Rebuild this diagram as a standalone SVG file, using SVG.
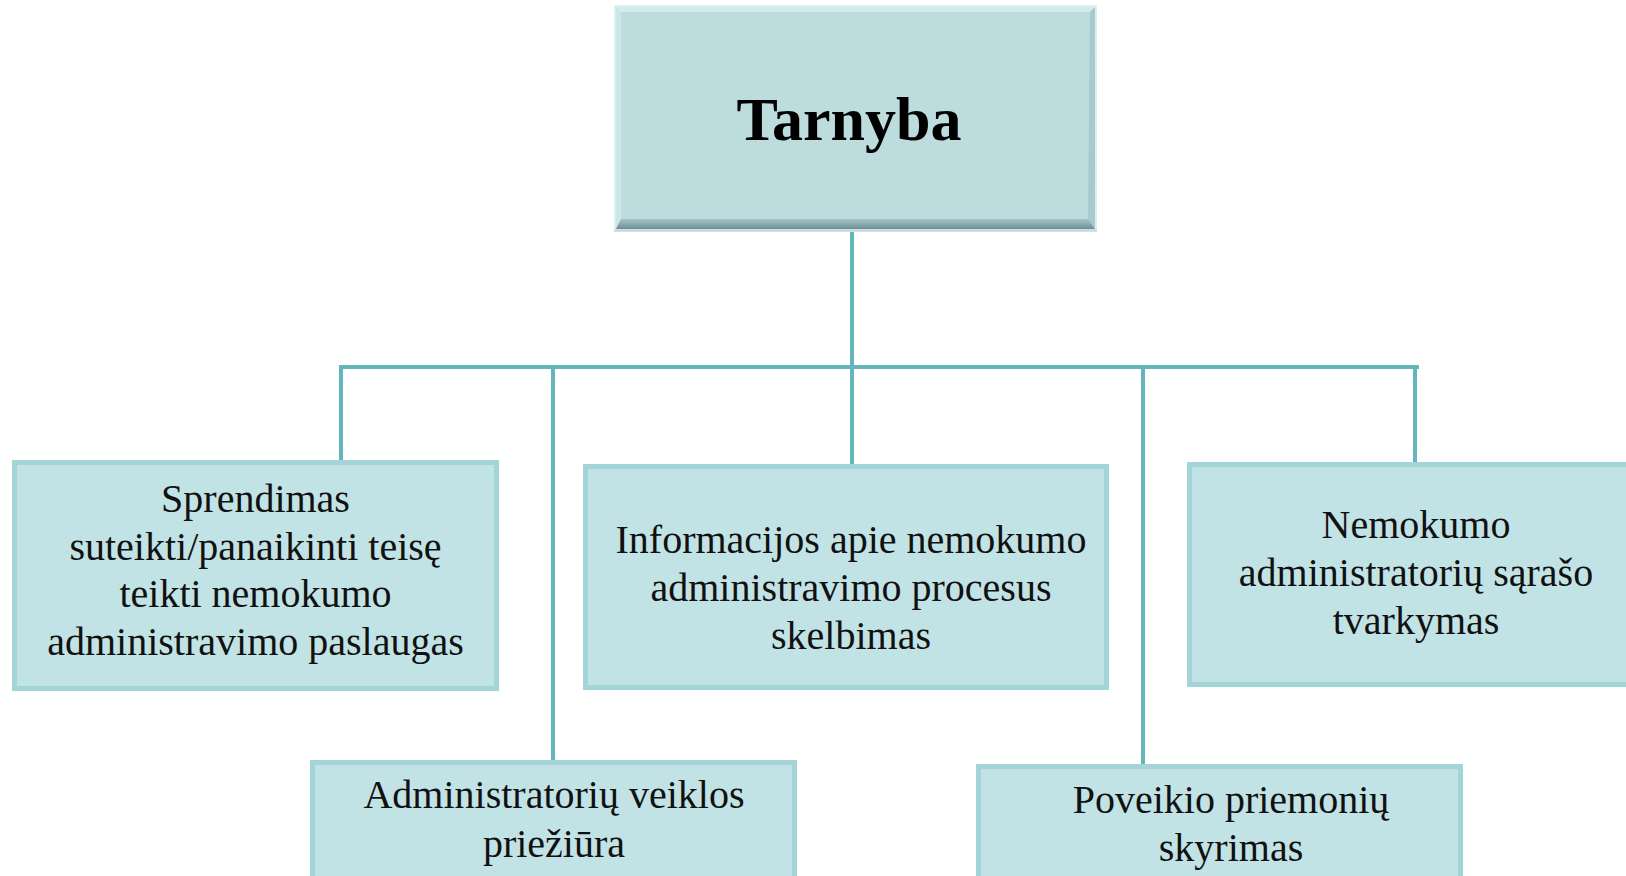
<svg xmlns="http://www.w3.org/2000/svg" width="1626" height="876" viewBox="0 0 1626 876">
<defs>
<style>
.box{fill:#C2E3E5;stroke:#A3D4D7;stroke-width:5}
.lbl{font-family:"Liberation Serif","Times New Roman",serif;font-size:40px;fill:#111;text-anchor:middle}
.ttl{font-family:"Liberation Serif","Times New Roman",serif;font-size:62px;font-weight:bold;fill:#000;text-anchor:middle}
.conn{stroke:#63B7BA;stroke-width:4;fill:none}
</style>
<linearGradient id="botBev" x1="0" y1="0" x2="0" y2="1">
<stop offset="0" stop-color="#A7C6C8"/>
<stop offset="1" stop-color="#6F8F92"/>
</linearGradient>
</defs>
<rect width="1626" height="876" fill="#FFFFFF"/>
<g id="connectors">
<path class="conn" d="M852 229 V367"/>
<path class="conn" d="M339 367 H1419"/>
<path class="conn" d="M341 365 V460"/>
<path class="conn" d="M553 367 V760"/>
<path class="conn" d="M852 367 V464"/>
<path class="conn" d="M1143 367 V764"/>
<path class="conn" d="M1415 365 V462"/>
</g>
<g id="node-tarnyba">
<rect x="614" y="5" width="483" height="227" fill="#D9F0F2"/>
<rect x="616" y="7" width="479" height="222" fill="#BCDCDE"/>
<polygon points="616,7 1095,7 1090,12 621,12" fill="#D2ECEE"/>
<polygon points="616,7 621,12 621,220 616,229" fill="#CBE7E9"/>
<polygon points="1095,7 1095,229 1088,220 1090,12" fill="#A9CACC"/>
<polygon points="616,229 621,219 1088,219 1095,229" fill="url(#botBev)"/>
<line x1="614" y1="230.5" x2="1097" y2="230.5" stroke="#C9D6D7" stroke-width="2"/>
<text class="ttl" x="849" y="140">Tarnyba</text>
</g>
<g id="node-sprendimas">
<rect class="box" x="14.5" y="462.5" width="482" height="226"/>
<text class="lbl" x="255.5" y="512">Sprendimas</text>
<text class="lbl" x="255.5" y="559.5">suteikti/panaikinti teisę</text>
<text class="lbl" x="255.5" y="607">teikti nemokumo</text>
<text class="lbl" x="255.5" y="655">administravimo paslaugas</text>
</g>
<g id="node-informacija">
<rect class="box" x="585.5" y="466.5" width="521" height="221"/>
<text class="lbl" x="851" y="553">Informacijos apie nemokumo</text>
<text class="lbl" x="851" y="601">administravimo procesus</text>
<text class="lbl" x="851" y="649">skelbimas</text>
</g>
<g id="node-sarasas">
<rect class="box" x="1189.5" y="464.5" width="480" height="220"/>
<text class="lbl" x="1416" y="538">Nemokumo</text>
<text class="lbl" x="1416" y="586">administratorių sąrašo</text>
<text class="lbl" x="1416" y="634">tvarkymas</text>
</g>
<g id="node-prieziura">
<rect class="box" x="312.5" y="762.5" width="482" height="200"/>
<text class="lbl" x="554" y="808">Administratorių veiklos</text>
<text class="lbl" x="554" y="857">priežiūra</text>
</g>
<g id="node-poveikis">
<rect class="box" x="978.5" y="766.5" width="482" height="200"/>
<text class="lbl" x="1231" y="813">Poveikio priemonių</text>
<text class="lbl" x="1231" y="861">skyrimas</text>
</g>
</svg>
